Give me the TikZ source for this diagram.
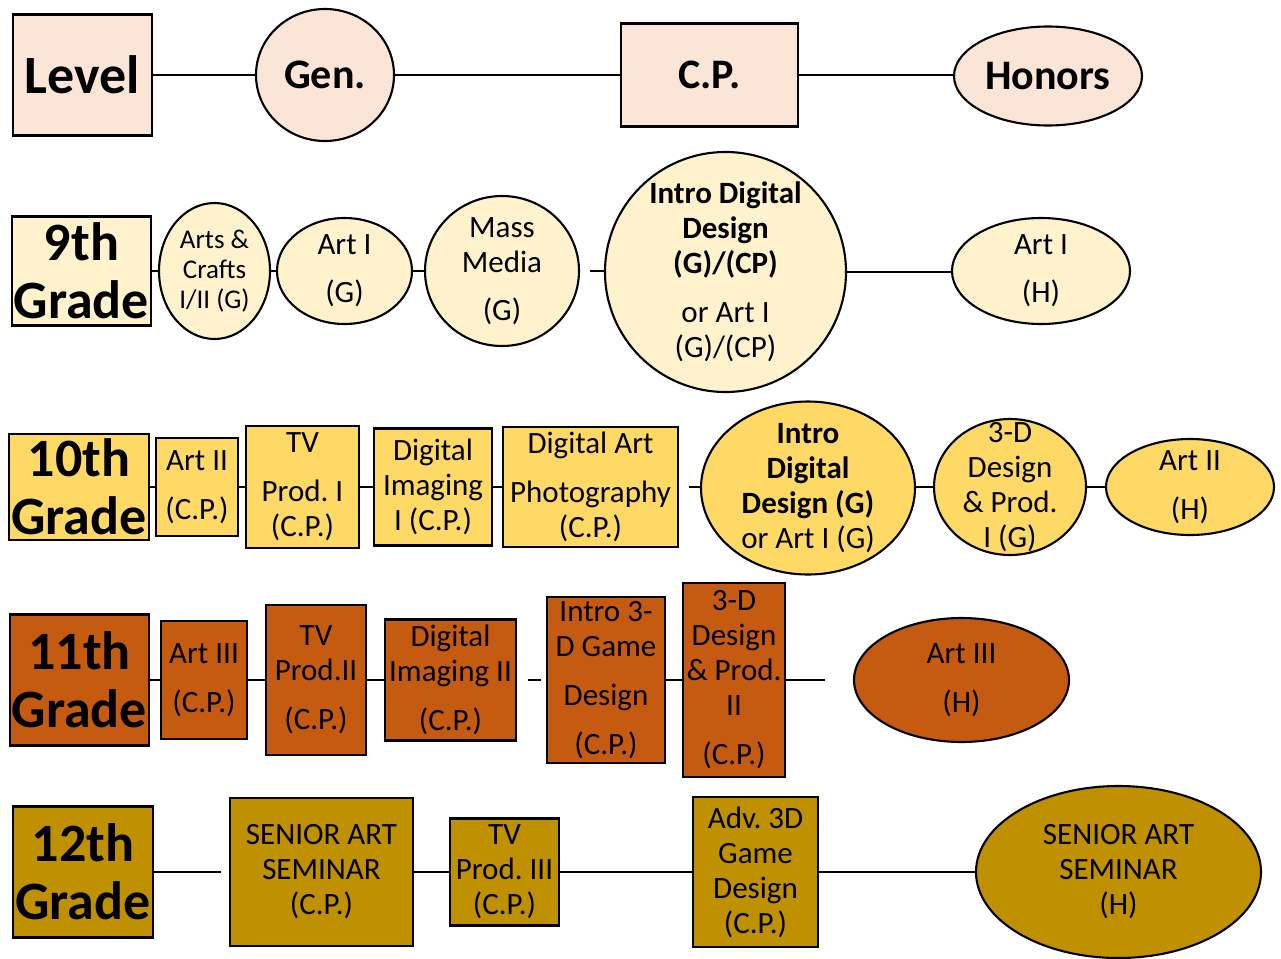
\documentclass[tikz,border=0pt]{standalone}
\usepackage{fontspec}
\setmainfont{Carlito}
\usetikzlibrary{shapes.geometric}
\definecolor{lvlc}{HTML}{FBE5D6}
\definecolor{gnine}{HTML}{FFF2CC}
\definecolor{gten}{HTML}{FFD966}
\definecolor{geleven}{HTML}{C55A11}
\definecolor{gtwelve}{HTML}{BF9000}
\frenchspacing
\tikzset{
  rbox/.style={draw=black, line width=2.3pt, rectangle, inner sep=0pt},
  ebox/.style={draw=black, line width=2.1pt, ellipse, inner sep=0pt},
  con/.style={line width=2.1pt},
  txt/.style={font=\fontsize{31}{35}\selectfont, align=center, inner sep=0pt},
  smalltxt/.style={font=\fontsize{27}{30}\selectfont, align=center, inner sep=0pt},
  gradetxt/.style={font=\bfseries\fontsize{54}{58}\selectfont, align=center, inner sep=0pt},
  headtxt/.style={font=\bfseries\fontsize{42}{48}\selectfont, align=center, inner sep=0pt},
}
\begin{document}
\begin{tikzpicture}[x=1pt,y=-1pt]
\useasboundingbox (0,0) rectangle (1281,958);
\fill[white] (0,0) rectangle (1281,958);

% ---------- Row 1 ----------
\node[rbox, fill=lvlc, minimum width=139pt, minimum height=121pt] (lev) at (82.5,75) {};
\node[gradetxt] (levt) at (lev) {Level};
\node[ebox, fill=lvlc, minimum width=138pt, minimum height=132pt] (gen) at (325,75) {};
\node[headtxt] (gent) at (gen) {Gen.};
\node[rbox, fill=lvlc, minimum width=177pt, minimum height=103pt] (cp) at (709.5,75) {};
\node[headtxt] (cpt) at (cp) {C.P.};
\node[ebox, fill=lvlc, minimum width=188pt, minimum height=99pt] (hon) at (1048,76) {};
\node[headtxt] (hont) at (hon) {Honors};
\draw[con] (lev.east) -- (gen.west);
\draw[con] (gen.east) -- (cp.west);
\draw[con] (cp.east) -- (cp.east -| hon.west);

% ---------- Row 2 ----------
\node[rbox, fill=gnine, minimum width=139pt, minimum height=109pt] (g9) at (81.5,271) {};
\node[gradetxt] (g9t) at (g9) {9th\\Grade};
\node[ebox, fill=gnine, minimum width=111pt, minimum height=136pt] (ac) at (214.5,271) {};
\node[smalltxt] (act) at (ac) {Arts \&\\Crafts\\I/II (G)};
\node[ebox, fill=gnine, minimum width=135pt, minimum height=106pt] (aone) at (344.5,271) {};
\node[txt] (aonet) at (aone) {Art I\\[13pt](G)};
\node[ebox, fill=gnine, minimum width=154pt, minimum height=150pt] (mm) at (502,271) {};
\node[txt] (mmt) at (mm) {Mass\\Media\\[13pt](G)};
\node[ebox, fill=gnine, minimum width=241pt, minimum height=240pt] (idd) at (725.5,272) {};
\node[txt] (iddt) at (idd) {\textbf{Intro Digital}\\\textbf{Design}\\\textbf{(G)/(CP)}\\[14pt]or Art I\\(G)/(CP)};
\node[ebox, fill=gnine, minimum width=178pt, minimum height=106pt] (aoneh) at (1041,271) {};
\node[txt] (aoneht) at (aoneh) {Art I\\[13pt](H)};
\coordinate (ctwo) at (590,271);
\draw[con] (g9.east) -- (ac.west);
\draw[con] (ac.east) -- (aone.west);
\draw[con] (aone.east) -- (mm.west);
\draw[con] (ctwo) -- (ctwo -| idd.west);
\draw[con] (idd.east) -- (idd.east -| aoneh.west);

% ---------- Row 3 ----------
\node[rbox, fill=gten, minimum width=140pt, minimum height=106pt] (g10) at (79,487) {};
\node[gradetxt] (g10t) at (g10) {10th\\Grade};
\node[rbox, fill=gten, minimum width=82pt, minimum height=98pt] (atwo) at (197,487) {};
\node[txt] (atwot) at (atwo) {Art II\\[14pt](C.P.)};
\node[rbox, fill=gten, minimum width=113pt, minimum height=122pt] (tvone) at (302.5,487) {};
\node[txt] (tvonet) at (tvone) {TV\\[14pt]Prod. I\\(C.P.)};
\node[rbox, fill=gten, minimum width=118pt, minimum height=117pt] (dione) at (433,487) {};
\node[txt] (dionet) at (dione) {Digital\\Imaging\\I (C.P.)};
\node[rbox, fill=gten, minimum width=175pt, minimum height=120pt] (dap) at (590.5,487) {};
\node[txt] (dapt) at (dap) {Digital Art\\[14pt]Photography\\(C.P.)};
\node[ebox, fill=gten, minimum width=214pt, minimum height=173pt] (iddb) at (808,488) {};
\node[txt] (iddbt) at (iddb) {\textbf{Intro}\\\textbf{Digital}\\\textbf{Design (G)}\\or Art I (G)};
\node[ebox, fill=gten, minimum width=152pt, minimum height=136pt] (dthree) at (1010,487) {};
\node[txt] (dthreet) at (dthree) {3-D\\Design\\\& Prod.\\I (G)};
\node[ebox, fill=gten, minimum width=168pt, minimum height=96pt] (atwoh) at (1190,487) {};
\node[txt] (atwoht) at (atwoh) {Art II\\[14pt](H)};
\coordinate (cthree) at (689,487);
\draw[con] (g10.east) -- (atwo.west);
\draw[con] (atwo.east) -- (tvone.west);
\draw[con] (tvone.east) -- (dione.west);
\draw[con] (dione.east) -- (dap.west);
\draw[con] (cthree) -- (cthree -| iddb.west);
\draw[con] (iddb.east |- dthree.west) -- (dthree.west);
\draw[con] (dthree.east) -- (atwoh.west);

% ---------- Row 4 ----------
\node[rbox, fill=geleven, minimum width=139pt, minimum height=131pt] (g11) at (79.5,680) {};
\node[gradetxt] (g11t) at (g11) {11th\\Grade};
\node[rbox, fill=geleven, minimum width=86pt, minimum height=118pt] (athree) at (204,680) {};
\node[txt] (athreet) at (athree) {Art III\\[14pt](C.P.)};
\node[rbox, fill=geleven, minimum width=100pt, minimum height=150pt] (tvtwo) at (316,680) {};
\node[txt] (tvtwot) at (tvtwo) {TV\\Prod.II\\[14pt](C.P.)};
\node[rbox, fill=geleven, minimum width=131pt, minimum height=121pt] (ditwo) at (450.5,680) {};
\node[txt] (ditwot) at (ditwo) {Digital\\Imaging II\\[14pt](C.P.)};
\node[rbox, fill=geleven, minimum width=118pt, minimum height=166pt] (ithree) at (606,680) {};
\node[txt] (ithreet) at (ithree) {Intro 3-\\D Game\\[14pt]Design\\[14pt](C.P.)};
\node[rbox, fill=geleven, minimum width=102pt, minimum height=194pt] (dthreeb) at (734,680) {};
\node[txt] (dthreebt) at (dthreeb) {3-D\\Design\\\& Prod.\\II\\[14pt](C.P.)};
\node[ebox, fill=geleven, minimum width=215pt, minimum height=124pt] (athreeh) at (961.5,680) {};
\node[txt] (athreeht) at (athreeh) {Art III\\[14pt](H)};
\coordinate (cfoura) at (528,680);
\coordinate (cfourb) at (541,680);
\coordinate (cfourc) at (825,680);
\draw[con] (g11.east) -- (athree.west);
\draw[con] (athree.east) -- (tvtwo.west);
\draw[con] (tvtwo.east) -- (ditwo.west);
\draw[con] (cfoura) -- (cfourb);
\draw[con] (ithree.east) -- (dthreeb.west);
\draw[con] (dthreeb.east) -- (cfourc);

% ---------- Row 5 ----------
\node[rbox, fill=gtwelve, minimum width=140pt, minimum height=131pt] (g12) at (83,872) {};
\node[gradetxt] (g12t) at (g12) {12th\\Grade};
\node[rbox, fill=gtwelve, minimum width=183pt, minimum height=148pt] (sas) at (321.5,872) {};
\node[txt] (sast) at (sas) {SENIOR ART\\SEMINAR\\(C.P.)};
\node[rbox, fill=gtwelve, minimum width=109pt, minimum height=107pt] (tvthree) at (504.5,872) {};
\node[txt] (tvthreet) at (tvthree) {TV\\Prod. III\\(C.P.)};
\node[rbox, fill=gtwelve, minimum width=125pt, minimum height=150pt] (adv) at (755.5,872) {};
\node[txt] (advt) at (adv) {Adv. 3D\\Game\\Design\\(C.P.)};
\node[ebox, fill=gtwelve, minimum width=285pt, minimum height=172pt] (sash) at (1118.5,872) {};
\node[txt] (sasht) at (sash) {SENIOR ART\\SEMINAR\\(H)};
\coordinate (cfive) at (221,872);
\draw[con] (g12.east) -- (cfive);
\draw[con] (sas.east) -- (tvthree.west);
\draw[con] (tvthree.east) -- (adv.west);
\draw[con] (adv.east) -- (sash.west);
\end{tikzpicture}
\end{document}
